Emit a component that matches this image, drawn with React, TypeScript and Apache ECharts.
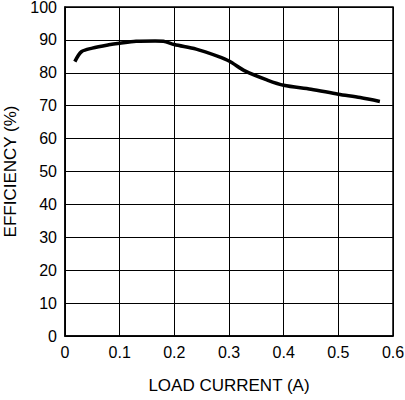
import React, { useEffect, useRef } from "react";
import * as echarts from "echarts";

const loadCurrent = [0.018, 0.03, 0.05, 0.08, 0.1, 0.13, 0.165, 0.18, 0.2, 0.24, 0.28, 0.3, 0.33, 0.37, 0.4, 0.45, 0.5, 0.54, 0.576];
const efficiency = [83.4, 86.4, 87.5, 88.5, 89.0, 89.6, 89.7, 89.6, 88.6, 87.2, 85.0, 83.6, 80.5, 77.8, 76.2, 75.0, 73.5, 72.5, 71.3];

const xTitle = "LOAD CURRENT (A)";
const yTitle = "EFFICIENCY (%)";

export default function App() {
  const ref = useRef<HTMLDivElement>(null);
  useEffect(() => {
    const chart = echarts.init(ref.current!, null, { renderer: "svg" });
    const font = "'Liberation Sans', Arial, sans-serif";
    chart.setOption({
      animation: false,
      backgroundColor: "#fff",
      grid: {
        left: 65, top: 7, right: 12, bottom: 64,
        outerBoundsMode: "none",
        containLabel: false,
        show: true, borderColor: "#000", borderWidth: 1.5,
      },
      xAxis: {
        type: "value",
        min: 0,
        max: 0.6,
        interval: 0.1,
        name: xTitle,
        nameLocation: "middle",
        nameGap: 41,
        nameTextStyle: { color: "#000", fontSize: 17, fontFamily: font },
        axisLine: { show: true, lineStyle: { color: "#000", width: 1.5 } },
        axisTick: { show: false },
        axisLabel: { color: "#000", fontSize: 16, fontFamily: font, margin: 8, hideOverlap: false, formatter: (v: number) => String(Math.round(v * 10) / 10) },
        splitLine: { show: true, lineStyle: { color: "#000", width: 1 } },
      },
      yAxis: {
        type: "value",
        min: 0,
        max: 100,
        interval: 10,
        name: yTitle,
        nameLocation: "middle",
        nameGap: 46,
        nameTextStyle: { color: "#000", fontSize: 17, fontFamily: font },
        axisLine: { show: true, lineStyle: { color: "#000", width: 1.5 } },
        axisTick: { show: false },
        axisLabel: { color: "#000", fontSize: 16, fontFamily: font, margin: 8, hideOverlap: false },
        splitLine: { show: true, lineStyle: { color: "#000", width: 1 } },
      },
      series: [
        {
          type: "line",
          data: loadCurrent.map((x, i) => [x, efficiency[i]]),
          showSymbol: false,
          smooth: 0.3,
          lineStyle: { color: "#000", width: 3.5 },
        },
      ],
    });
    return () => chart.dispose();
  }, []);
  return <div ref={ref} style={{ width: 405, height: 400, position: "absolute", left: 0, top: 0 }} />;
}
